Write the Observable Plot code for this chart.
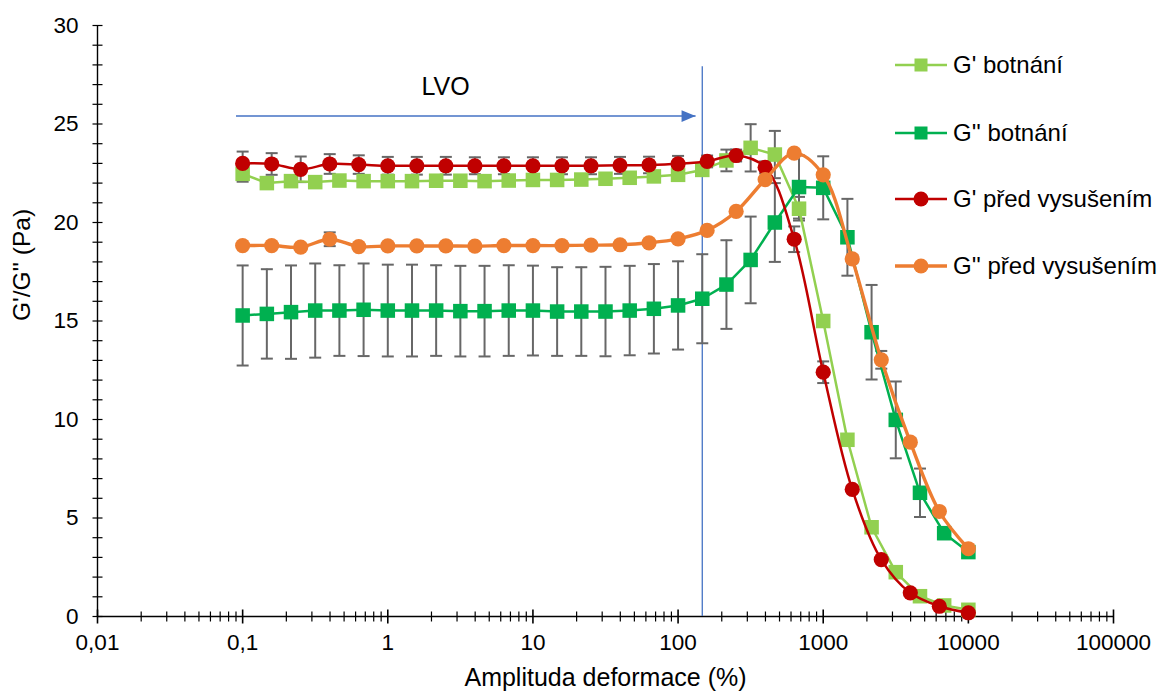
<!DOCTYPE html>
<html><head><meta charset="utf-8">
<script src="https://cdn.jsdelivr.net/npm/d3@7"></script>
<script src="https://cdn.jsdelivr.net/npm/@observablehq/plot@0.6"></script>
<style>
body{margin:0;background:#fff;font-family:Arial,"Liberation Sans",sans-serif;}
#wrap{position:relative;width:1160px;height:697px;}
.leg{position:absolute;left:895px;height:30px;display:flex;align-items:center;font-size:24px;color:#000;white-space:nowrap;}
.leg span{margin-left:5px;}
</style></head><body><div id="wrap"></div>
<script>
// ---- data ----
const xBotnani = [0.1, 0.1468, 0.2154, 0.3162, 0.4642, 0.6813, 1, 1.468, 2.154, 3.162, 4.642, 6.813, 10, 14.68, 21.54, 31.62, 46.42, 68.13, 100, 146.8, 215.4, 316.2, 464.2, 681.3, 1000, 1468, 2154, 3162, 4642, 6813, 10000];
const gPrimeBotnani = [22.47, 22.0, 22.1, 22.05, 22.13, 22.1, 22.1, 22.1, 22.12, 22.12, 22.1, 22.13, 22.16, 22.16, 22.18, 22.22, 22.27, 22.34, 22.42, 22.67, 23.15, 23.79, 23.45, 20.7, 15.0, 8.97, 4.53, 2.25, 1.03, 0.56, 0.34];
const gPrimeBotnaniErr = [0.4, 0.15, 0.15, 0.15, 0.15, 0.15, 0.15, 0.15, 0.15, 0.15, 0.15, 0.15, 0.15, 0.15, 0.15, 0.15, 0.15, 0.15, 0.2, 0.3, 0.55, 1.2, 1.2, 0.6, 0.3, 0.2, 0.2, 0.2, 0.1, 0.1, 0.1];
const gDoublePrimeBotnani = [15.28, 15.36, 15.45, 15.53, 15.53, 15.57, 15.53, 15.53, 15.53, 15.5, 15.5, 15.53, 15.53, 15.48, 15.48, 15.48, 15.53, 15.62, 15.79, 16.13, 16.85, 18.1, 20.0, 21.8, 21.76, 19.25, 14.43, 9.98, 6.28, 4.23, 3.27];
const gDoublePrimeBotnaniErr = [2.54, 2.27, 2.37, 2.39, 2.3, 2.35, 2.33, 2.33, 2.3, 2.3, 2.3, 2.3, 2.28, 2.25, 2.25, 2.27, 2.27, 2.27, 2.24, 2.26, 2.25, 2.2, 2.0, 1.6, 1.6, 1.95, 2.4, 1.95, 1.23, 0.3, 0.2];

const xPred = [0.1, 0.1585, 0.2512, 0.3981, 0.631, 1, 1.585, 2.512, 3.981, 6.31, 10, 15.85, 25.12, 39.81, 63.1, 100, 158.5, 251.2, 398.1, 631, 1000, 1585, 2512, 3981, 6310, 10000];
const gPrimePred = [23.0, 22.97, 22.7, 22.97, 22.94, 22.88, 22.88, 22.88, 22.88, 22.88, 22.88, 22.88, 22.88, 22.9, 22.92, 22.98, 23.1, 23.4, 22.8, 19.15, 12.4, 6.45, 2.89, 1.2, 0.52, 0.19];
const gPrimePredErr = [0.6, 0.55, 0.65, 0.5, 0.47, 0.45, 0.45, 0.45, 0.43, 0.43, 0.43, 0.43, 0.43, 0.43, 0.42, 0.4, 0.3, 0.3, 0.3, 0.65, 0.55, 0.15, 0.1, 0.1, 0.05, 0.05];
const gDoublePrimePred = [18.83, 18.83, 18.75, 19.15, 18.78, 18.81, 18.81, 18.81, 18.8, 18.83, 18.83, 18.83, 18.85, 18.87, 18.97, 19.17, 19.6, 20.56, 22.18, 23.52, 22.42, 18.15, 13.03, 8.85, 5.33, 3.44];
const gDoublePrimePredErr = [0.1, 0.1, 0.1, 0.35, 0.1, 0.1, 0.1, 0.1, 0.1, 0.1, 0.1, 0.1, 0.1, 0.1, 0.1, 0.1, 0.1, 0.1, 0.1, 0.1, 0.1, 0.2, 0.45, 0.2, 0.1, 0.1];

const seriesNames = ["G' botnání", "G'' botnání", "G' před vysušením", "G'' před vysušením"];
const xTickValues = [0.01, 0.1, 1, 10, 100, 1000, 10000, 100000];
const yTickValues = [0, 5, 10, 15, 20, 25, 30];
const lvoLimit = 146.8;          // LVO boundary (%)
const lvoLineTop = 27.9;
const lvoArrow = [{x1: 0.09, x2: 132, y: 25.4}];
const lvoLabel = [{x: 2.5, y: 26.9, text: "LVO"}];

// ---- styles ----
const colors = ["#92D050", "#00B050", "#C00000", "#ED7D31"];
const symbols = ["square", "square", "circle", "circle"];
const curves = ["linear", "linear", "catmull-rom", "catmull-rom"];
const lineWidths = [2.5, 2.5, 2.5, 3.4];

const seriesData = [
  [xBotnani, gPrimeBotnani, gPrimeBotnaniErr],
  [xBotnani, gDoublePrimeBotnani, gDoublePrimeBotnaniErr],
  [xPred, gPrimePred, gPrimePredErr],
  [xPred, gDoublePrimePred, gDoublePrimePredErr]
].map(([xs, ys, es]) => xs.map((x, i) => ({x, y: ys[i], e: es[i]})));

const hLine = {draw(ctx, size) { const r = Math.sqrt(size / Math.PI); ctx.moveTo(-r, 0); ctx.lineTo(r, 0); }};
const vLine = {draw(ctx, size) { const r = Math.sqrt(size / Math.PI); ctx.moveTo(0, -r); ctx.lineTo(0, r); }};
const headRight = {draw(ctx, size) { const r = Math.sqrt(size / Math.PI); ctx.moveTo(0, 0); ctx.lineTo(-2 * r, -0.85 * r); ctx.lineTo(-2 * r, 0.85 * r); ctx.closePath(); }};

const minorX = [];
for (let k = -2; k <= 4; k++) for (let m = 2; m <= 9; m++) minorX.push(m * Math.pow(10, k));
const minorY = d3.range(0, 31);

const fmtX = d => String(d).replace(".", ",");
const errColor = "#676767";

const marks = [
  // axis lines
  Plot.ruleX([0.01], {stroke: "#000", strokeWidth: 1.4}),
  Plot.ruleY([0], {stroke: "#000", strokeWidth: 1.4}),
  // crossing ticks
  Plot.dot(minorX, {x: d => d, frameAnchor: "bottom", symbol: vLine, r: 5, fill: "none", stroke: "#000", strokeWidth: 1.2}),
  Plot.dot(xTickValues, {x: d => d, frameAnchor: "bottom", symbol: vLine, r: 7, fill: "none", stroke: "#000", strokeWidth: 1.6}),
  Plot.dot(minorY, {y: d => d, frameAnchor: "left", symbol: hLine, r: 5, fill: "none", stroke: "#000", strokeWidth: 1.2}),
  // tick labels
  Plot.axisX({ticks: xTickValues, tickFormat: fmtX, tickSize: 0, tickPadding: 18, fontSize: 22.5, label: null}),
  Plot.axisY({ticks: yTickValues, tickSize: 0, tickPadding: 19, fontSize: 22.5, label: null}),
  // axis titles
  Plot.text(["Amplituda deformace (%)"], {frameAnchor: "bottom", dy: 69, fontSize: 25, fill: "#000"}),
  Plot.text(["G'/G'' (Pa)"], {frameAnchor: "left", dx: -75, rotate: -90, fontSize: 24.5, fill: "#000"}),
  // LVO
  Plot.ruleX([lvoLimit], {y1: 0, y2: lvoLineTop, stroke: "#4472C4", strokeWidth: 1.3}),
  Plot.link(lvoArrow, {x1: "x1", x2: "x2", y1: "y", y2: "y", stroke: "#4472C4", strokeWidth: 1.5}),
  Plot.dot(lvoArrow, {x: "x2", y: "y", symbol: headRight, r: 7, fill: "#4472C4", stroke: "none"}),
  Plot.text(lvoLabel, {x: "x", y: "y", text: "text", fontSize: 25, fill: "#000"})
];

// error bars
seriesData.forEach(rows => {
  marks.push(Plot.ruleX(rows, {x: "x", y1: d => d.y - d.e, y2: d => d.y + d.e, stroke: errColor, strokeWidth: 2}));
  marks.push(Plot.dot(rows, {x: "x", y: d => d.y + d.e, symbol: hLine, r: 6, fill: "none", stroke: errColor, strokeWidth: 2}));
  marks.push(Plot.dot(rows, {x: "x", y: d => d.y - d.e, symbol: hLine, r: 6, fill: "none", stroke: errColor, strokeWidth: 2}));
});
// lines and markers
seriesData.forEach((rows, i) => {
  marks.push(Plot.line(rows, {x: "x", y: "y", stroke: colors[i], strokeWidth: lineWidths[i], curve: curves[i]}));
  marks.push(Plot.dot(rows, {x: "x", y: "y", symbol: symbols[i], r: symbols[i] === "square" ? 8.2 : 7.6, fill: colors[i], stroke: "none"}));
});

const chart = Plot.plot({
  width: 1160, height: 697,
  marginLeft: 97, marginRight: 47, marginTop: 25, marginBottom: 81,
  x: {type: "log", domain: [0.01, 100000]},
  y: {domain: [0, 30]},
  style: {fontFamily: "Arial, 'Liberation Sans', sans-serif", background: "#fff", color: "#000"},
  marks
});
const wrap = document.getElementById("wrap");
wrap.appendChild(chart);

// legend (overlay, as in the original)
const legendTops = [50, 118, 184, 251];
seriesNames.forEach((name, i) => {
  const d = document.createElement("div");
  d.className = "leg";
  d.style.top = legendTops[i] + "px";
  const mk = symbols[i] === "square"
    ? `<rect x="19.5" y="8.5" width="13" height="13" fill="${colors[i]}"/>`
    : `<circle cx="26" cy="15" r="7.5" fill="${colors[i]}"/>`;
  d.innerHTML = `<svg width="53" height="30"><line x1="0" x2="52" y1="15" y2="15" stroke="${colors[i]}" stroke-width="${lineWidths[i]}"/>${mk}</svg><span>${name}</span>`;
  wrap.appendChild(d);
});
</script></body></html>
